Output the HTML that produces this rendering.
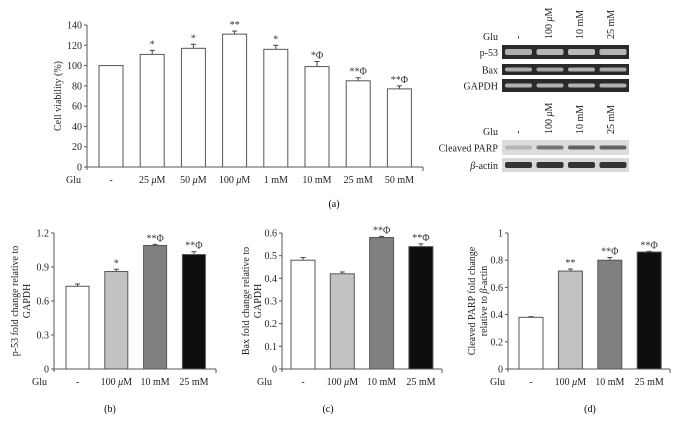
<!DOCTYPE html>
<html><head><meta charset="utf-8">
<style>
html,body{margin:0;padding:0;background:#fff;}
svg{display:block;font-family:"Liberation Serif",serif;}
</style></head>
<body>
<svg id="fig" width="678" height="424" viewBox="0 0 678 424" xmlns="http://www.w3.org/2000/svg">
  <rect x="0" y="0" width="678" height="424" fill="#fff"/>
  <g id="blots"></g>
  <text x="334" y="207" font-size="10" text-anchor="middle">(a)</text>
  <text x="110" y="412" font-size="10" text-anchor="middle">(b)</text>
  <text x="328" y="412" font-size="10" text-anchor="middle">(c)</text>
  <text x="590" y="412" font-size="10" text-anchor="middle">(d)</text>
</svg>
<script>
// Panel (a)
const aCategories = ["-", "25 μM", "50 μM", "100 μM", "1 mM", "10 mM", "25 mM", "50 mM"];
const aValues = [100, 111, 117, 131, 116, 99, 85, 77];
const aErrors = [0, 4, 4, 3, 4, 5, 3, 3];
const aSig = ["", "*", "*", "**", "*", "*Φ", "**Φ", "**Φ"];
const aTicks = [0, 20, 40, 60, 80, 100, 120, 140];
// Panel (b)
const bCategories = ["-", "100 μM", "10 mM", "25 mM"];
const bValues = [0.73, 0.86, 1.09, 1.01];
const bErrors = [0.02, 0.02, 0.01, 0.025];
const bSig = ["", "*", "**Φ", "**Φ"];
const bTicks = ["0", "0.3", "0.6", "0.9", "1.2"];
// Panel (c)
const cCategories = ["-", "100 μM", "10 mM", "25 mM"];
const cValues = [0.48, 0.42, 0.58, 0.54];
const cErrors = [0.012, 0.008, 0.005, 0.012];
const cSig = ["", "", "**Φ", "**Φ"];
const cTicks = ["0", "0.1", "0.2", "0.3", "0.4", "0.5", "0.6"];
// Panel (d)
const dCategories = ["-", "100 μM", "10 mM", "25 mM"];
const dValues = [0.38, 0.72, 0.80, 0.86];
const dErrors = [0.005, 0.015, 0.02, 0.005];
const dSig = ["", "**", "**Φ", "**Φ"];
const dTicks = ["0", "0.2", "0.4", "0.6", "0.8", "1"];
const fourFills = ["#ffffff", "#c2c2c2", "#808080", "#0e0e0e"];

const NS = "http://www.w3.org/2000/svg";
const svg = document.getElementById("fig");
function mk(tag, attrs, parent) {
  const e = document.createElementNS(NS, tag);
  for (const k in attrs) e.setAttribute(k, attrs[k]);
  (parent || svg).appendChild(e);
  return e;
}

function chart(cfg) {
  const g = mk("g", {});
  
  
  const tickVals = cfg.ticks.map(Number);
  const ymax = tickVals[tickVals.length - 1];
  const yS = v => cfg.y0 - (v / ymax) * (cfg.y0 - cfg.yTop);
  const xS = i => cfg.firstX + i * cfg.step;
  // axis
  const ax = mk("line", {x1: cfg.ax, y1: cfg.yTop, x2: cfg.ax, y2: cfg.y0 + 3, stroke: "#555", "stroke-width": 1}, g);
  
  
  const xa = mk("line", {x1: cfg.ax, y1: cfg.y0, x2: cfg.axEnd, y2: cfg.y0, stroke: "#555", "stroke-width": 1}, g);
  
  
  mk("line", {x1: cfg.axEnd, y1: cfg.y0, x2: cfg.axEnd, y2: cfg.y0 + 4, stroke: "#555"}, g);
  cfg.ticks.forEach((t, i) => {
    const y = yS(tickVals[i]);
    mk("line", {x1: cfg.ax - 3, y1: y, x2: cfg.ax, y2: y, stroke: "#555"}, g);
    const tx = mk("text", {x: cfg.ax - 5, y: y + 3.5, "font-size": 10, "text-anchor": "end", fill: "#222"}, g);
    tx.textContent = t;
    
    
  });
  // y title
  const tt = mk("text", {transform: `translate(${cfg.titleX},${(cfg.y0 + cfg.yTop) / 2}) rotate(-90)`, "font-size": 10, "text-anchor": "middle", fill: "#222"}, g);
  
  
  cfg.title.forEach((line, i) => {
    const ts = mk("tspan", {x: 0, dy: i === 0 ? 0 : 12}, tt);
    ts.innerHTML = line;
  });
  // Glu label
  const gl = mk("text", {x: cfg.gluX, y: cfg.y0 + 16, "font-size": 10, fill: "#222"}, g);
  gl.textContent = "Glu";
  
  
  cfg.values.forEach((v, i) => {
    const x = xS(i), y = yS(v);
    const e = cfg.errors[i];
    if (e > 0) {
      const ye = yS(v + e);
      mk("line", {x1: x + cfg.w / 2, y1: y, x2: x + cfg.w / 2, y2: ye, stroke: "#444"}, g);
      mk("line", {x1: x + cfg.w / 2 - 2.5, y1: ye, x2: x + cfg.w / 2 + 2.5, y2: ye, stroke: "#444"}, g);
    }
    const r = mk("rect", {x: x, y: y, width: cfg.w, height: cfg.y0 - y, fill: cfg.fills[i], stroke: "#555", "stroke-width": 1}, g);
    
    
    if (cfg.sig[i]) {
      const s = mk("text", {x: x + cfg.w / 2, y: yS(v + e) - 3, "font-size": 10, "text-anchor": "middle", fill: "#333"}, g);
      s.textContent = cfg.sig[i];
      
      
    }
    const c = mk("text", {x: x + cfg.w / 2, y: cfg.y0 + 16, "font-size": 10, "text-anchor": "middle", fill: "#222"}, g);
    c.innerHTML = cfg.cats[i].replace("μ", "<tspan font-style='italic'>μ</tspan>");
    
    
  });
}

chart({name: "chart-a-cell-viability", values: aValues, errors: aErrors, sig: aSig, cats: aCategories, ticks: aTicks.map(String),
  fills: aValues.map(() => "#fff"), ax: 87, axEnd: 423, y0: 167, yTop: 25, firstX: 99, step: 41.2, w: 24,
  titleX: 61, title: ["Cell viability (%)"], gluX: 66});
chart({name: "chart-b-p53", values: bValues, errors: bErrors, sig: bSig, cats: bCategories, ticks: bTicks,
  fills: fourFills, ax: 54, axEnd: 216, y0: 369, yTop: 233, firstX: 66, step: 38.8, w: 23,
  titleX: 18, title: ["p-53 fold change relative to", "GAPDH"], gluX: 32});
chart({name: "chart-c-bax", values: cValues, errors: cErrors, sig: cSig, cats: cCategories, ticks: cTicks,
  fills: fourFills, ax: 282, axEnd: 442, y0: 369, yTop: 233, firstX: 291, step: 39.3, w: 24,
  titleX: 249, title: ["Bax fold change relative to", "GAPDH"], gluX: 257});
chart({name: "chart-d-cleaved-parp", values: dValues, errors: dErrors, sig: dSig, cats: dCategories, ticks: dTicks,
  fills: fourFills, ax: 508, axEnd: 670, y0: 369, yTop: 233, firstX: 519, step: 39.4, w: 24,
  titleX: 475, title: ["Cleaved PARP fold change", "relative to <tspan font-style='italic'>β</tspan>-actin"], gluX: 490});

// Blots
const blotLanes = ["-", "100 μM", "10 mM", "25 mM"];
const bl = document.getElementById("blots");
function blot(label, y, h, bg, band, bandH, name, italicFirst) {
  const r = mk("rect", {x: 502, y: y, width: 127, height: h, fill: bg}, bl);
  
  
  for (let i = 0; i < 4; i++) {
    mk("rect", {x: 505 + i * 31.5, y: y + h / 2 - bandH / 2, width: 27, height: bandH, rx: 2, fill: band[i], opacity: 0.9}, bl);
  }
  const t = mk("text", {x: 498, y: y + h / 2 + 4, "font-size": 10, "text-anchor": "end", fill: "#222"}, bl);
  t.innerHTML = italicFirst ? "<tspan font-style='italic'>β</tspan>-actin" : label;
  
  
}
function laneLabels(yBase) {
  const gl = mk("text", {x: 498, y: yBase + 1, "font-size": 10, "text-anchor": "end", fill: "#222"}, bl);
  gl.textContent = "Glu";
  
  
  blotLanes.forEach((l, i) => {
    const x = 521 + i * 31;
    const t = mk("text", {transform: `translate(${x},${yBase}) rotate(-90)`, "font-size": 10, fill: "#222"}, bl);
    t.innerHTML = l.replace("μ", "<tspan font-style='italic'>μ</tspan>");
    
    
  });
}
laneLabels(39);
blot("p-53", 45, 14, "#2a2a2a", ["#bdbdbd","#c4c4c4","#cacaca","#c4c4c4"], 6, "p53");
blot("Bax", 64, 11, "#2a2a2a", ["#b8b8b8","#b0b0b0","#bdbdbd","#b5b5b5"], 4, "bax");
blot("GAPDH", 79, 13, "#2a2a2a", ["#c0c0c0","#c0c0c0","#c0c0c0","#c0c0c0"], 4, "gapdh");
laneLabels(134);
blot("Cleaved PARP", 140, 15, "#dcdcdc", ["#b0b0b0","#6a6a6a","#555","#555"], 4, "cleaved-parp");
blot("b-actin", 158, 14, "#d8d8d8", ["#222","#222","#222","#222"], 6, "beta-actin", true);
</script>
</body></html>
